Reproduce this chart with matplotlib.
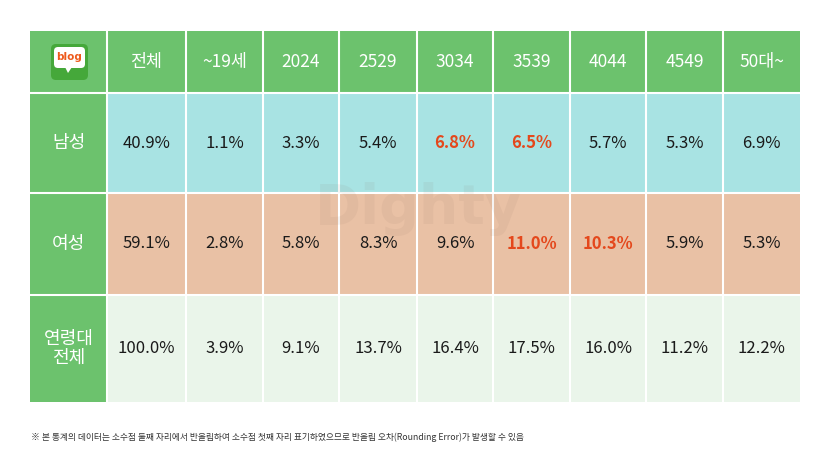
import matplotlib
matplotlib.use("Agg")
import matplotlib.pyplot as plt
from matplotlib.patches import Rectangle, FancyBboxPatch, Polygon

plt.rcParams['font.family'] = ['Noto Sans CJK KR', 'DejaVu Sans']

# ---- data ----
columns = ["전체", "~19세", "2024", "2529", "3034", "3539", "4044", "4549", "50대~"]
row_labels = ["남성", "여성", "연령대\n전체"]
male = [40.9, 1.1, 3.3, 5.4, 6.8, 6.5, 5.7, 5.3, 6.9]
female = [59.1, 2.8, 5.8, 8.3, 9.6, 11.0, 10.3, 5.9, 5.3]
total = [100.0, 3.9, 9.1, 13.7, 16.4, 17.5, 16.0, 11.2, 12.2]
highlight = {0: ["3034", "3539"], 1: ["3539", "4044"], 2: []}
footnote = "※ 본 통계의 데이터는 소수점 둘째 자리에서 반올림하여 소수점 첫째 자리 표기하였으므로 반올림 오차(Rounding Error)가 발생할 수 있음"

# ---- layout ----
col_edges = [30, 107, 186, 263, 339, 417, 493, 570, 646, 723, 800]
row_edges = [31, 93, 193, 295, 402]
GREEN = "#6cc26d"
row_bg = ["#a8e3e3", "#e9c1a5", "#eaf5ea"]
RED = "#e4481c"

fig = plt.figure(figsize=(8.3, 4.5), dpi=100)
ax = fig.add_axes([0, 0, 1, 1])
ax.set_xlim(0, 830)
ax.set_ylim(450, 0)
ax.axis("off")

# header background
ax.add_patch(Rectangle((col_edges[0], row_edges[0]), col_edges[-1] - col_edges[0],
                       row_edges[1] - row_edges[0], color=GREEN, lw=0))
# row label column
ax.add_patch(Rectangle((col_edges[0], row_edges[1]), col_edges[1] - col_edges[0],
                       row_edges[-1] - row_edges[1], color=GREEN, lw=0))
# data rows
for r in range(3):
    ax.add_patch(Rectangle((col_edges[1], row_edges[r + 1]), col_edges[-1] - col_edges[1],
                           row_edges[r + 2] - row_edges[r + 1], color=row_bg[r], lw=0))

# watermark
ax.text(418, 224, "Dighty", fontsize=40, fontweight="bold", color="#8a6a5a", alpha=0.08,
        ha="center", va="baseline", family=["DejaVu Sans"])

# grid lines
for x in col_edges[1:-1]:
    ax.plot([x, x], [row_edges[0], row_edges[-1]], color="white", lw=1.5)
for y in row_edges[1:-1]:
    ax.plot([col_edges[0], col_edges[-1]], [y, y], color="white", lw=1.5)

# header text
for i, c in enumerate(columns):
    xc = (col_edges[i + 1] + col_edges[i + 2]) / 2
    ax.text(xc, (row_edges[0] + row_edges[1]) / 2, c, color="white", fontsize=12.5,
            ha="center", va="center")

# logo
ax.add_patch(FancyBboxPatch((51, 44), 37, 36, boxstyle="round,pad=0,rounding_size=5",
                            color="#45a83a", lw=0))
ax.add_patch(FancyBboxPatch((54, 47), 31, 21, boxstyle="round,pad=0,rounding_size=4",
                            color="white", lw=0))
ax.add_patch(Polygon([[65, 67], [72, 67], [68, 73]], color="white", lw=0))
ax.text(69.5, 57, "blog", color="#ee5a1c", fontsize=7.5, fontweight="bold",
        ha="center", va="center", family=["DejaVu Sans"])

# row labels and values
rows = [male, female, total]
for r, vals in enumerate(rows):
    yc = (row_edges[r + 1] + row_edges[r + 2]) / 2
    ax.text((col_edges[0] + col_edges[1]) / 2, yc, row_labels[r], color="white",
            fontsize=13, ha="center", va="center", linespacing=1.05)
    for i, v in enumerate(vals):
        xc = (col_edges[i + 1] + col_edges[i + 2]) / 2
        hl = columns[i] in highlight[r]
        ax.text(xc, yc, f"{v:.1f}%", color=RED if hl else "#1a1a1a",
                fontsize=12, fontweight="bold" if hl else "normal",
                ha="center", va="center")

# footnote
ax.text(31, 437, footnote, fontsize=6.3, color="#333333", ha="left", va="center")

fig.savefig("out.png", dpi=100)
